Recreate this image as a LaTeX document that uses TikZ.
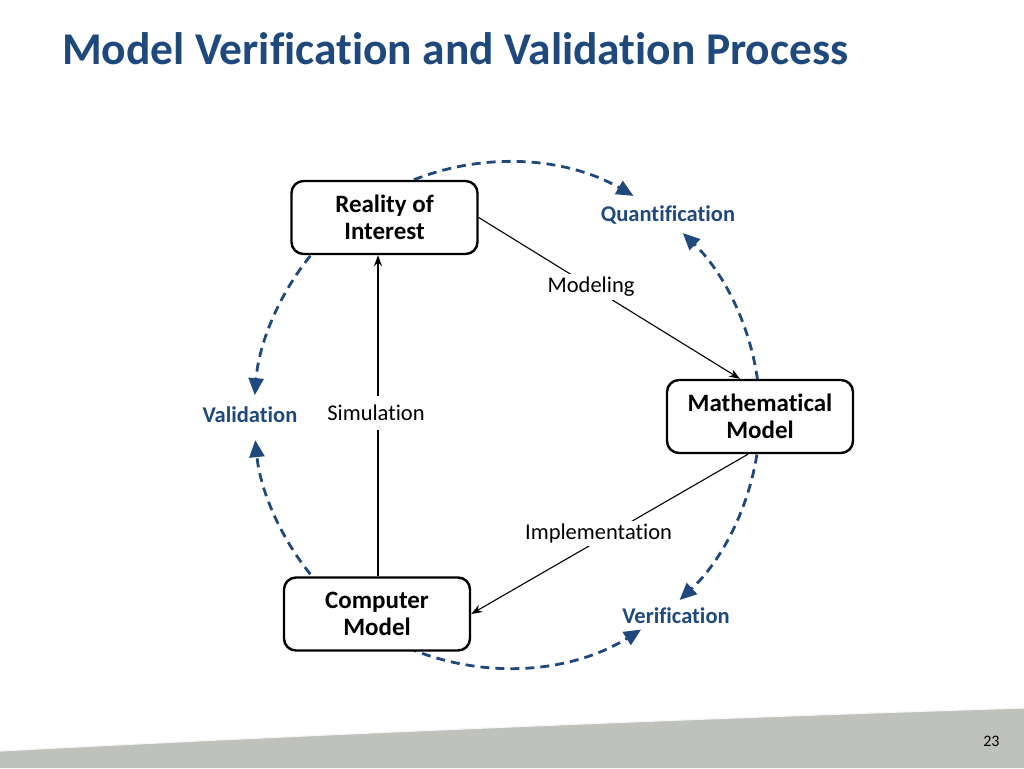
\documentclass[tikz,border=0pt]{standalone}
\usepackage{fontspec}
\setmainfont[Ligatures={NoCommon}]{Carlito}
\usetikzlibrary{arrows.meta,calc}
\definecolor{vvblue}{RGB}{31,73,125}
\definecolor{bandgray}{RGB}{191,193,187}
\pgfdeclarelayer{background}
\pgfsetlayers{background,main}
\tikzset{
  box/.style={draw=black, line width=2.4pt, rounded corners=12pt, fill=white,
    minimum width=186pt, minimum height=73pt, align=center, inner sep=0pt,
    font=\fontsize{25}{27}\selectfont\bfseries},
  bluelbl/.style={text=vvblue, font=\fontsize{22.5}{26}\selectfont\bfseries, inner sep=1pt},
  lbl/.style={fill=white, text=black, font=\fontsize{22.5}{26}\selectfont, inner sep=3pt},
  darc/.style={draw=vvblue, line width=2.8pt, dash pattern=on 9pt off 6pt,
    -{Triangle[length=17pt,width=15pt]}},
  sline/.style={draw=black, line width=1.1pt, -{Stealth[length=11pt,width=8pt]}},
}
\begin{document}
\begin{tikzpicture}[x=1pt,y=1pt]
\useasboundingbox (0,0) rectangle (1024,-768);
% bottom band
\fill[bandgray] (0,-751) .. controls (300,-735) and (700,-718) .. (1024,-708) -- (1024,-768) -- (0,-768) -- cycle;
\draw[white!85!bandgray, line width=1.2pt] (0,-751) .. controls (300,-735) and (700,-718) .. (1024,-708);
\node[anchor=base east, font=\fontsize{16}{18}\selectfont] (pnum) at (1003,-746) {23};
% title
\node[anchor=base west, text=vvblue, font=\fontsize{45.5}{50}\selectfont\bfseries, inner sep=0pt] (title) at (62,-64) {Model Verification and Validation Process};
% boxes
\node[box] (reality) at (384.5,-217.5) {Reality of\\Interest};
\node[box] (math) at (760,-416.5) {Mathematical\\Model};
\node[box] (computer) at (377,-614) {Computer\\Model};
% blue labels
\node[bluelbl] (quant) at (668,-215) {Quantification};
\node[bluelbl] (valid) at (250,-415) {Validation};
\node[bluelbl] (verif) at (676,-616) {Verification};
\coordinate (c) at (507,-415);
% dashed arcs
\begin{pgfonlayer}{background}
\draw[darc] ($(c)+(111.6:253)$) arc[start angle=111.6, end angle=60, radius=253];
\draw[darc] ($(c)+(8:253)$) arc[start angle=8, end angle=46, radius=253];
\draw[darc] ($(c)+(-9:253)$) arc[start angle=-9, end angle=-47, radius=253];
\draw[darc] ($(c)+(-113:253)$) arc[start angle=-113, end angle=-58, radius=253];
\draw[darc] ($(c)+(219:253)$) arc[start angle=219, end angle=185.7, radius=253];
\draw[darc] ($(c)+(141:253)$) arc[start angle=141, end angle=175.5, radius=253];
\end{pgfonlayer}
% solid connectors
\draw[sline] (reality.east) -- node[lbl, pos=0.43, yshift=0pt, inner xsep=6pt] (modeling) {Modeling} ([xshift=-20pt]math.north);
\draw[sline] ([xshift=-12pt]math.south) -- node[lbl, pos=0.54, yshift=7pt] (impl) {Implementation} (computer.east);
\draw[sline] ([xshift=1pt]computer.north) -- node[lbl, pos=0.5, xshift=-2pt, yshift=3pt, inner ysep=9pt] (sim) {Simulation} ([xshift=1pt]computer.north |- reality.south);
\end{tikzpicture}
\end{document}
